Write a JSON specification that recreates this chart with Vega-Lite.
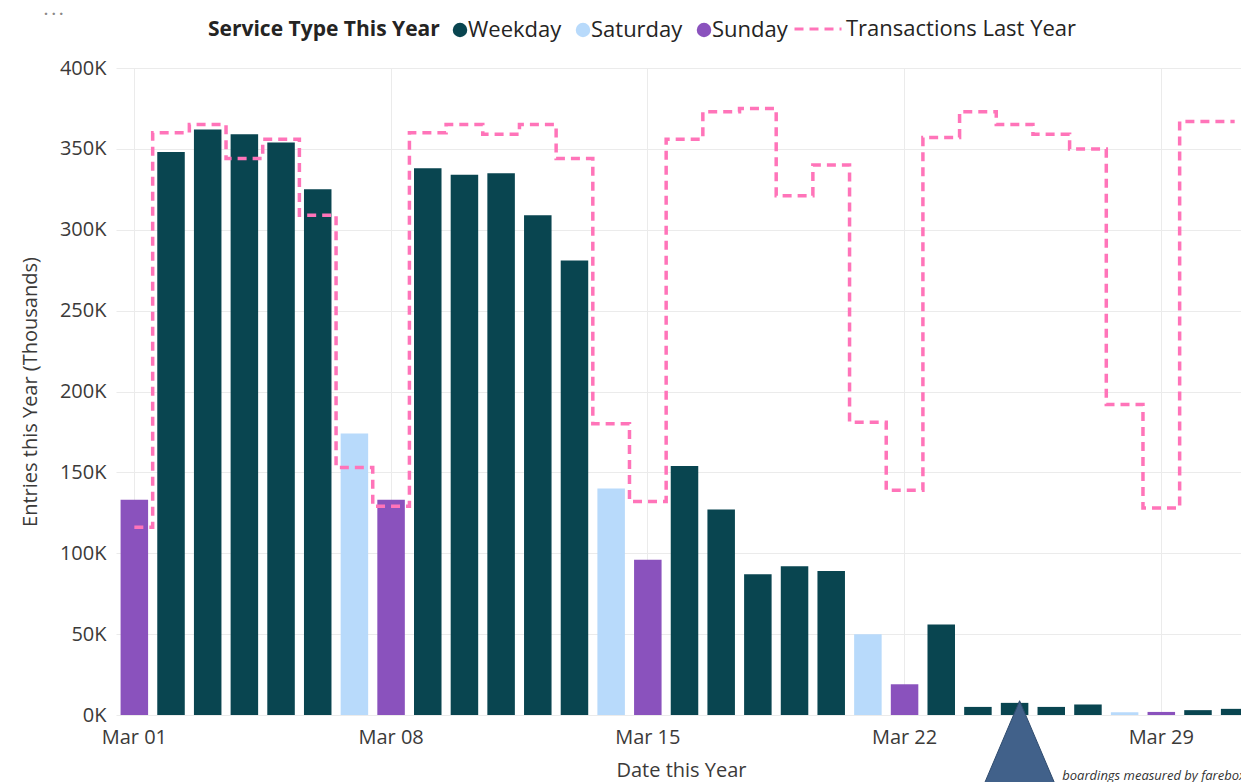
{
  "$schema": "https://vega.github.io/schema/vega-lite/v6.json",
  "width": 1125,
  "height": 647,
  "autosize": {"type": "none"},
  "padding": {"left": 116, "top": 68, "right": 0, "bottom": 67},
  "background": "white",
  "title": {"text": "· · ·", "anchor": "start", "frame": "group", "orient": "top", "offset": 0, "dy": 18, "dx": -72, "fontSize": 14, "fontWeight": "bold", "color": "#8a8886", "font": "Open Sans"},
  "config": {
    "font": "Open Sans",
    "view": {"stroke": null},
    "axis": {"labelFont": "Open Sans", "titleFont": "Open Sans", "labelColor": "#3b3a39", "titleColor": "#3b3a39", "titleFontWeight": "normal", "labelFontSize": 20, "titleFontSize": 20, "gridColor": "#ebebeb", "gridWidth": 1, "ticks": false, "domain": false},
    "legend": {"labelFont": "Open Sans", "titleFont": "Open Sans", "labelColor": "#252423", "titleColor": "#252423", "labelFontSize": 22, "titleFontSize": 21, "labelLimit": 400}
  },
  "datasets": {
    "daily": [
      {"day": "Mar 01", "service_type": "Sunday", "entries_k": 133},
      {"day": "Mar 02", "service_type": "Weekday", "entries_k": 348},
      {"day": "Mar 03", "service_type": "Weekday", "entries_k": 362},
      {"day": "Mar 04", "service_type": "Weekday", "entries_k": 359},
      {"day": "Mar 05", "service_type": "Weekday", "entries_k": 354},
      {"day": "Mar 06", "service_type": "Weekday", "entries_k": 325},
      {"day": "Mar 07", "service_type": "Saturday", "entries_k": 174},
      {"day": "Mar 08", "service_type": "Sunday", "entries_k": 133},
      {"day": "Mar 09", "service_type": "Weekday", "entries_k": 338},
      {"day": "Mar 10", "service_type": "Weekday", "entries_k": 334},
      {"day": "Mar 11", "service_type": "Weekday", "entries_k": 335},
      {"day": "Mar 12", "service_type": "Weekday", "entries_k": 309},
      {"day": "Mar 13", "service_type": "Weekday", "entries_k": 281},
      {"day": "Mar 14", "service_type": "Saturday", "entries_k": 140},
      {"day": "Mar 15", "service_type": "Sunday", "entries_k": 96},
      {"day": "Mar 16", "service_type": "Weekday", "entries_k": 154},
      {"day": "Mar 17", "service_type": "Weekday", "entries_k": 127},
      {"day": "Mar 18", "service_type": "Weekday", "entries_k": 87},
      {"day": "Mar 19", "service_type": "Weekday", "entries_k": 92},
      {"day": "Mar 20", "service_type": "Weekday", "entries_k": 89},
      {"day": "Mar 21", "service_type": "Saturday", "entries_k": 50},
      {"day": "Mar 22", "service_type": "Sunday", "entries_k": 19},
      {"day": "Mar 23", "service_type": "Weekday", "entries_k": 56},
      {"day": "Mar 24", "service_type": "Weekday", "entries_k": 5},
      {"day": "Mar 25", "service_type": "Weekday", "entries_k": 7.5},
      {"day": "Mar 26", "service_type": "Weekday", "entries_k": 5},
      {"day": "Mar 27", "service_type": "Weekday", "entries_k": 6.5},
      {"day": "Mar 28", "service_type": "Saturday", "entries_k": 1.7},
      {"day": "Mar 29", "service_type": "Sunday", "entries_k": 1.9},
      {"day": "Mar 30", "service_type": "Weekday", "entries_k": 3},
      {"day": "Mar 31", "service_type": "Weekday", "entries_k": 3.8}
    ],
    "lastyear": [
      {"day": "Mar 01", "series": "Transactions Last Year", "transactions_k": 116},
      {"day": "Mar 02", "series": "Transactions Last Year", "transactions_k": 360},
      {"day": "Mar 03", "series": "Transactions Last Year", "transactions_k": 365},
      {"day": "Mar 04", "series": "Transactions Last Year", "transactions_k": 344},
      {"day": "Mar 05", "series": "Transactions Last Year", "transactions_k": 356},
      {"day": "Mar 06", "series": "Transactions Last Year", "transactions_k": 309},
      {"day": "Mar 07", "series": "Transactions Last Year", "transactions_k": 153},
      {"day": "Mar 08", "series": "Transactions Last Year", "transactions_k": 129},
      {"day": "Mar 09", "series": "Transactions Last Year", "transactions_k": 360},
      {"day": "Mar 10", "series": "Transactions Last Year", "transactions_k": 365},
      {"day": "Mar 11", "series": "Transactions Last Year", "transactions_k": 359},
      {"day": "Mar 12", "series": "Transactions Last Year", "transactions_k": 365},
      {"day": "Mar 13", "series": "Transactions Last Year", "transactions_k": 344},
      {"day": "Mar 14", "series": "Transactions Last Year", "transactions_k": 180},
      {"day": "Mar 15", "series": "Transactions Last Year", "transactions_k": 132},
      {"day": "Mar 16", "series": "Transactions Last Year", "transactions_k": 356},
      {"day": "Mar 17", "series": "Transactions Last Year", "transactions_k": 373},
      {"day": "Mar 18", "series": "Transactions Last Year", "transactions_k": 375},
      {"day": "Mar 19", "series": "Transactions Last Year", "transactions_k": 321},
      {"day": "Mar 20", "series": "Transactions Last Year", "transactions_k": 340},
      {"day": "Mar 21", "series": "Transactions Last Year", "transactions_k": 181},
      {"day": "Mar 22", "series": "Transactions Last Year", "transactions_k": 139},
      {"day": "Mar 23", "series": "Transactions Last Year", "transactions_k": 357},
      {"day": "Mar 24", "series": "Transactions Last Year", "transactions_k": 373},
      {"day": "Mar 25", "series": "Transactions Last Year", "transactions_k": 365},
      {"day": "Mar 26", "series": "Transactions Last Year", "transactions_k": 359},
      {"day": "Mar 27", "series": "Transactions Last Year", "transactions_k": 350},
      {"day": "Mar 28", "series": "Transactions Last Year", "transactions_k": 192},
      {"day": "Mar 29", "series": "Transactions Last Year", "transactions_k": 128},
      {"day": "Mar 30", "series": "Transactions Last Year", "transactions_k": 367},
      {"day": "Mar 31", "series": "Transactions Last Year", "transactions_k": 367}
    ],
    "note": [
      {"day": "Mar 26", "level_k": -38, "text": "boardings measured by farebox"}
    ],
    "pointer": [
      {"day": "Mar 25", "level_k": -19}
    ]
  },
  "encoding": {
    "x": {
      "field": "day", "type": "ordinal",
      "scale": {"type": "band", "domain": ["Mar 01","Mar 02","Mar 03","Mar 04","Mar 05","Mar 06","Mar 07","Mar 08","Mar 09","Mar 10","Mar 11","Mar 12","Mar 13","Mar 14","Mar 15","Mar 16","Mar 17","Mar 18","Mar 19","Mar 20","Mar 21","Mar 22","Mar 23","Mar 24","Mar 25","Mar 26","Mar 27","Mar 28","Mar 29","Mar 30","Mar 31"], "range": [0, 1137], "paddingInner": 0.25, "paddingOuter": 0.125},
      "axis": {"title": "Date this Year", "values": ["Mar 01","Mar 08","Mar 15","Mar 22","Mar 29"], "grid": true, "bandPosition": 0.5, "labelAngle": 0, "labelPadding": 12, "titleX": 565, "titleY": 55, "titleBaseline": "middle", "titleAnchor": null}
    }
  },
  "layer": [
    {
      "data": {"name": "daily"},
      "mark": {"type": "bar"},
      "encoding": {
        "y": {"field": "entries_k", "type": "quantitative", "scale": {"domain": [0, 400], "nice": false},
          "axis": {"title": "Entries this Year (Thousands)", "values": [0,50,100,150,200,250,300,350,400], "labelExpr": "datum.value + 'K'", "labelPadding": 10, "titleX": -86, "titleY": 323.5, "titleAngle": -90, "titleAlign": "center", "titleBaseline": "middle", "grid": true}},
        "color": {"field": "service_type", "type": "nominal",
          "scale": {"domain": ["Weekday", "Saturday", "Sunday"], "range": ["#094550", "#B8DAFB", "#8A52BD"]},
          "legend": {"title": "Service Type This Year", "orient": "none", "legendX": 92, "legendY": -49, "direction": "horizontal", "titleOrient": "left", "titleFontWeight": "bold", "titlePadding": 9, "symbolType": "circle", "symbolSize": 210, "labelOffset": -3, "columnPadding": 10, "titleBaseline": "middle", "titleLimit": 400}}
      }
    },
    {
      "data": {"name": "lastyear"},
      "mark": {"type": "line", "interpolate": "step", "strokeWidth": 3.5, "color": "#FF74B9"},
      "encoding": {
        "y": {"field": "transactions_k", "type": "quantitative"},
        "strokeDash": {"field": "series", "type": "nominal", "scale": {"domain": ["Transactions Last Year"], "range": [[9, 6]]},
          "legend": {"title": null, "orient": "none", "legendX": 677, "legendY": -64, "direction": "horizontal", "symbolType": "stroke", "symbolSize": 2209, "symbolStrokeWidth": 3, "symbolStrokeColor": "#FF74B9", "labelOffset": 3}}
      }
    },
    {
      "data": {"name": "note"},
      "mark": {"type": "text", "align": "left", "baseline": "middle", "dx": 11, "fontSize": 13, "fontStyle": "italic", "color": "#333333"},
      "encoding": {
        "y": {"field": "level_k", "type": "quantitative"},
        "text": {"field": "text"}
      }
    },
    {
      "data": {"name": "pointer"},
      "mark": {"type": "point", "shape": "M0,-1L0.85,1L-0.85,1Z", "size": 8100, "filled": true, "color": "#41618A", "stroke": "#2F4B6E", "strokeWidth": 1, "opacity": 1, "xOffset": 5},
      "encoding": {
        "y": {"field": "level_k", "type": "quantitative"}
      }
    }
  ],
  "resolve": {"scale": {"y": "shared"}}
}
